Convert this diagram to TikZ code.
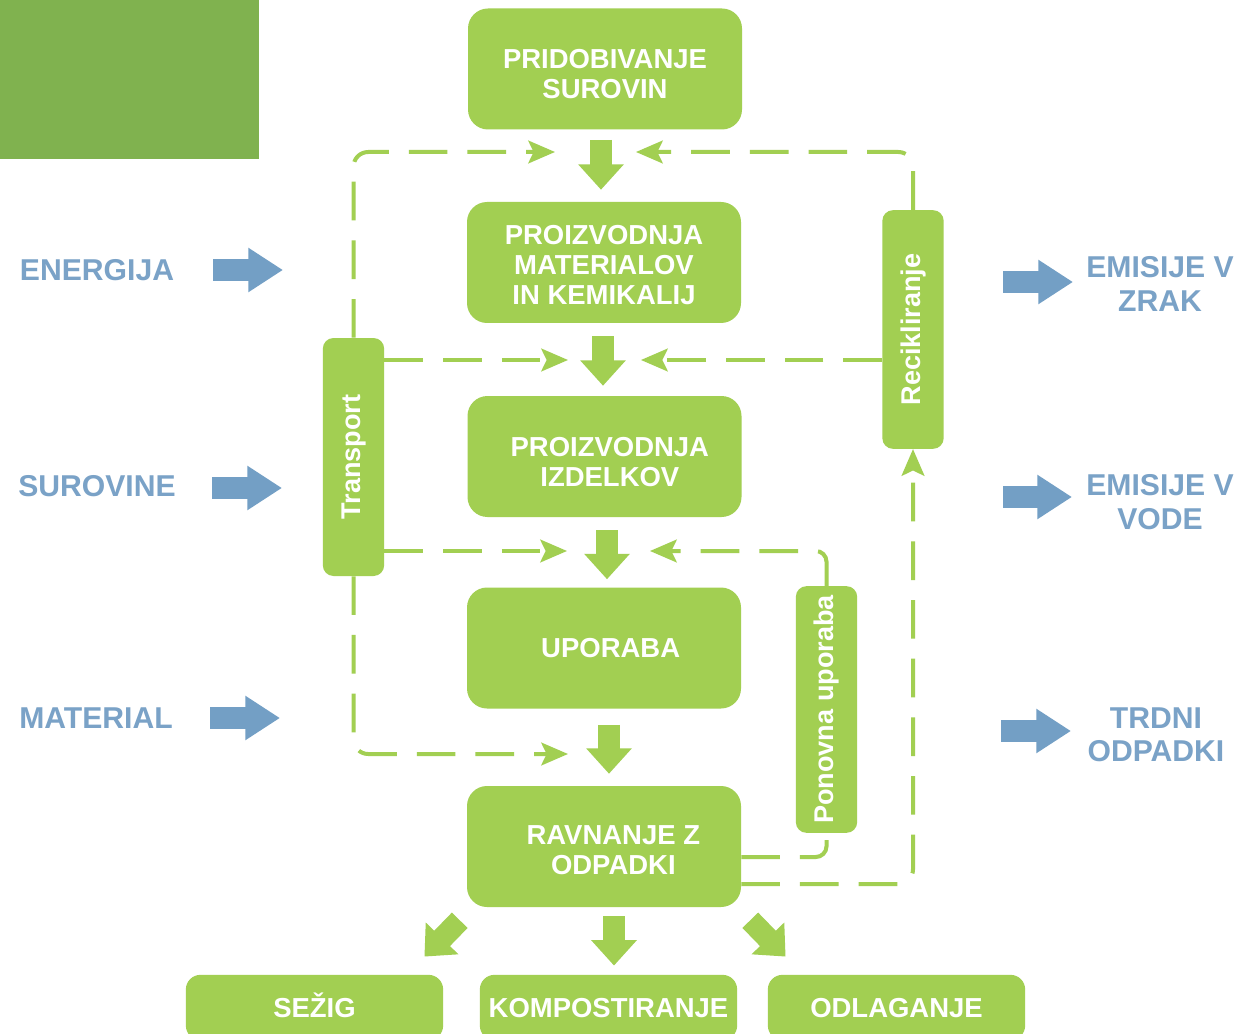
\documentclass[tikz,border=0pt]{standalone}
\usepackage{fontspec}
\setmainfont{Liberation Sans}
\usetikzlibrary{arrows.meta,calc}
\definecolor{boxgreen}{HTML}{A2CF52}
\definecolor{darkgreen}{HTML}{80B24F}
\definecolor{flowblue}{HTML}{739FC5}
\definecolor{textblue}{HTML}{7AA2C7}
\newcommand{\lift}[1]{\rule{0pt}{#1}}
\tikzset{
  stage/.style={fill=boxgreen, rounded corners=15pt, text=white, font=\fontsize{20.6}{22.5}\selectfont\bfseries,
    align=center, inner sep=0pt, minimum width=205.5pt, minimum height=90.75pt},
  sidebar/.style={fill=boxgreen, rounded corners=8pt, text=white, font=\fontsize{20.3}{23}\selectfont\bfseries,
    inner sep=0pt, minimum width=46pt},
  outcome/.style={stage, minimum width=193pt, minimum height=49pt, rounded corners=11pt,
    text height=14.8pt, text depth=0pt},
  flowlabel/.style={text=textblue, font=\fontsize{22.6}{25}\selectfont\bfseries, align=center},
  cycleline/.style={draw=boxgreen, line width=3pt, dash pattern=on 29pt off 15pt,
    -{Stealth[length=20pt,width=17pt,inset=4pt]}},
  stepdown/.style={draw=boxgreen, line width=16.5pt, -{Triangle[width=33pt,length=19pt]}},
  inout/.style={draw=flowblue, line width=16pt, -{Triangle[width=31.5pt,length=26pt]}},
}
\begin{document}
\begin{tikzpicture}[x=0.75pt,y=-0.75pt]
\fill[white] (0,0) rectangle (1260,1034);
\useasboundingbox (0,0) rectangle (1260,1034);
\fill[darkgreen] (0,0) rectangle (259,159);
% life cycle stages
\node[stage] (pridobivanje) at (605,69) {\lift{22pt}PRIDOBIVANJE\\SUROVIN};
\node[stage] (materiali) at (604,262.5) {\lift{18.5pt}PROIZVODNJA\\MATERIALOV\\IN KEMIKALIJ};
\node[stage] (izdelki) at (604.5,456.5) {\lift{22pt}\hspace*{8pt}PROIZVODNJA\\\hspace*{8pt}IZDELKOV};
\node[stage] (uporaba) at (604,648) {\hspace*{10pt}UPORABA};
\node[stage] (ravnanje) at (604,846.5) {\lift{20pt}\hspace*{14pt}RAVNANJE Z\\\hspace*{14pt}ODPADKI};
\node[outcome] (sezig) at (314.5,1007.5) {SEŽIG};
\node[outcome] (kompost) at (608.5,1007.5) {KOMPOSTIRANJE};
\node[outcome] (odlaganje) at (896.5,1007.5) {ODLAGANJE};
% side bars
\node[sidebar, minimum height=178.5pt] (transport) at (353.5,457) {\rotatebox{90}{Transport}};
\node[sidebar, minimum height=179pt] (recikliranje) at (913,329.5) {\rotatebox{90}{Recikliranje}};
\node[sidebar, minimum height=185pt] (ponovna) at (826.5,709.5) {\rotatebox{90}{Ponovna uporaba}};
% main flow
\draw[stepdown] ($(pridobivanje.south)+(-4,10)$) -- ($(materiali.north)+(-3,-12)$);
\draw[stepdown] ($(materiali.south)+(-1,13)$) -- ($(izdelki.north)+(-1.5,-10)$);
\draw[stepdown] ($(izdelki.south)+(2.5,13)$) -- ($(uporaba.north)+(3,-8)$);
\draw[stepdown] ($(uporaba.south)+(5,16)$) -- ($(ravnanje.north)+(5,-12)$);
\draw[stepdown] ($(ravnanje.south)+(10,9)$) -- ($(kompost.north)+(5.5,-9)$);
\draw[stepdown] ($(ravnanje.south west)+(-7,13)$) -- ($(sezig.north east)+(-19,-18)$);
\draw[stepdown] ($(ravnanje.south east)+(9,13)$) -- ($(odlaganje.north west)+(18,-18)$);
% dashed loops
\coordinate (tl) at (555,152);
\coordinate (tr) at (636,152);
\coordinate (t1) at (568,360);
\coordinate (r1) at (641,360);
\coordinate (t2) at (567,551);
\coordinate (p1) at (650,551);
\coordinate (t3) at (568,754);
\draw[cycleline, rounded corners=11pt] (transport.north) |- (tl);
\draw[cycleline, rounded corners=11pt] (recikliranje.north) |- (tr);
\draw[cycleline] (t1 -| transport.east) -- (t1);
\draw[cycleline] (r1 -| recikliranje.west) -- (r1);
\draw[cycleline] (t2 -| transport.east) -- (t2);
\draw[cycleline, rounded corners=8pt] (ponovna.north) |- (p1);
\draw[cycleline, rounded corners=11pt] (transport.south) |- (t3);
\draw[cycleline, -, rounded corners=8pt] ($(ravnanje.east)+(0,10.5)$) -| (ponovna.south);
\draw[cycleline, rounded corners=11pt] ($(ravnanje.east)+(0,37.5)$) -| (recikliranje.south);
% inputs
\node[flowlabel] (energija) at (97,270) {ENERGIJA};
\node[flowlabel] (surovine) at (97,486) {SUROVINE};
\node[flowlabel] (material) at (96,718) {MATERIAL};
\coordinate (ea) at (213,270); \coordinate (eb) at (283,270);
\coordinate (sa) at (212,488); \coordinate (sb) at (282,488);
\coordinate (ma) at (210,718); \coordinate (mb) at (280,718);
\draw[inout] (ea) -- (eb);
\draw[inout] (sa) -- (sb);
\draw[inout] (ma) -- (mb);
% outputs
\node[flowlabel] (zrak) at (1160,284) {EMISIJE V\\ZRAK};
\node[flowlabel] (vode) at (1160,502) {EMISIJE V\\VODE};
\node[flowlabel] (odpadki) at (1156,735) {TRDNI\\ODPADKI};
\coordinate (za) at (1003,282); \coordinate (zb) at (1073,282);
\coordinate (va) at (1003,497); \coordinate (vb) at (1072,497);
\coordinate (oa) at (1001,731); \coordinate (ob) at (1071,731);
\draw[inout] (za) -- (zb);
\draw[inout] (va) -- (vb);
\draw[inout] (oa) -- (ob);
\end{tikzpicture}
\end{document}
